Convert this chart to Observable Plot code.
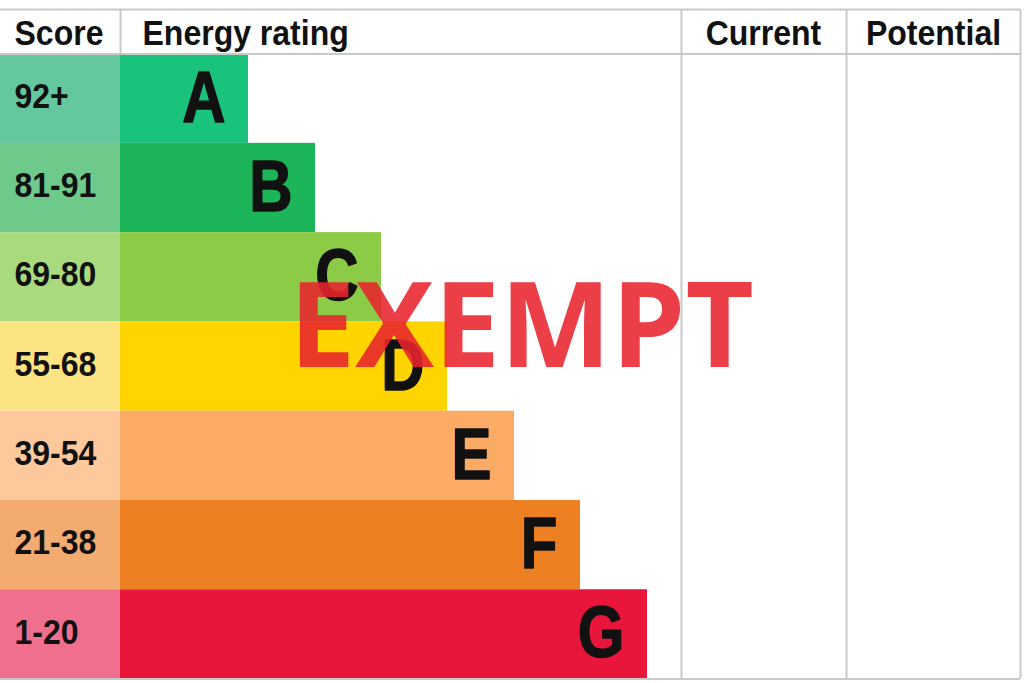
<!DOCTYPE html>
<html>
<head>
<meta charset="utf-8">
<script src="https://cdn.jsdelivr.net/npm/d3@7"></script>
<script src="https://cdn.jsdelivr.net/npm/@observablehq/plot@0.6"></script>
<style>
  html, body { margin: 0; padding: 0; background: #ffffff; }
  #chart svg { display: block; }
</style>
</head>
<body>
<div id="chart"></div>
<script>
// ---- data ----
const ratings = ["A", "B", "C", "D", "E", "F", "G"];
const scoreRanges = ["92+", "81-91", "69-80", "55-68", "39-54", "21-38", "1-20"];
const barColors = ["#19c37b", "#1db55a", "#8ccb45", "#ffd400", "#fcab66", "#ee8024", "#e9163c"];
const scoreColors = ["#64c79d", "#6dca8b", "#a9db7e", "#fde482", "#fdc99c", "#f4ab70", "#ef6f8d"];
// bar lengths of the rating arrows (layout units, same as the x scale)
const barLengths = [128, 195, 261, 327, 394, 460, 527];
const scoreColumnWidth = 120;
const leftHeaders = ["Score", "Energy rating"];
const leftHeaderX = [14, 142];
const rightHeaders = ["Current", "Potential"];
const rightHeaderX = [763, 933];
const columnEdges = [681, 846, 1020];
const stampText = "EXEMPT";

// ---- tables built from the arrays ----
const rows = ratings.map((r, i) => ({
  rating: r,
  score: scoreRanges[i],
  i,
  x2: scoreColumnWidth + barLengths[i],
  bar: barColors[i],
  scoreFill: scoreColors[i]
}));
const headL = leftHeaders.map((h, k) => ({label: h, x: leftHeaderX[k]}));
const headR = rightHeaders.map((h, k) => ({label: h, x: rightHeaderX[k]}));

const fontFam = "'Liberation Sans', Arial, Helvetica, sans-serif";
const grid = "#c9c9c9";
const hdrOpts = {y: -0.25, text: "label", fontSize: 32, fontWeight: "bold", fontFamily: fontFam, fill: "#111", dy: 2, ariaDescription: "hdr"};

const chart = Plot.plot({
  width: 1024,
  height: 683,
  margin: 0,
  style: {background: "#ffffff"},
  x: {domain: [0, 1024], range: [0, 1024], axis: null},
  y: {domain: [-0.6, 7.05], range: [0, 683], axis: null},
  marks: [
    // score cells
    Plot.rect(rows, {x1: 0, x2: scoreColumnWidth, y1: "i", y2: d => d.i + 1, fill: "scoreFill"}),
    // rating bars
    Plot.rect(rows, {x1: scoreColumnWidth, x2: "x2", y1: "i", y2: d => d.i + 1, fill: "bar"}),
    // grid lines
    Plot.ruleY([-0.5, 0, 7], {x1: 0, x2: 1020, stroke: grid, strokeWidth: 2}),
    Plot.ruleX(columnEdges, {y1: -0.5, y2: 7, stroke: grid, strokeWidth: 2}),
    Plot.ruleX([scoreColumnWidth], {y1: -0.5, y2: 0, stroke: grid, strokeWidth: 2}),
    // header labels
    Plot.text(headL, {...hdrOpts, x: "x", textAnchor: "start"}),
    Plot.text(headR, {...hdrOpts, x: "x", textAnchor: "middle"}),
    // score labels
    Plot.text(rows, {x: 14, y: d => d.i + 0.5, text: "score", textAnchor: "start", fontSize: 32, fontWeight: "bold",
      fontFamily: fontFam, fill: "#111", dy: -2, ariaDescription: "score"}),
    // rating letters
    Plot.text(rows, {x: d => d.x2 - 23, y: d => d.i + 0.5, text: "rating", textAnchor: "end", fontSize: 60, fontWeight: "bold",
      fontFamily: fontFam, fill: "#111", stroke: "#111", strokeWidth: 1.2, ariaDescription: "letter"}),
    // stamp
    Plot.text([stampText], {x: 521, y: 3.08, text: d => d, textAnchor: "middle", fontSize: 118, fontWeight: "bold",
      fontFamily: "'Open Sans', 'Noto Sans', sans-serif", fill: "#e8232e", fillOpacity: 0.88})
  ]
});

// vertical stretch of the glyphs, as in the reference artwork
const stretch = {hdr: 1.09, score: 1.09, letter: 1.2};
for (const [key, s] of Object.entries(stretch)) {
  chart.querySelectorAll(`g[aria-description="${key}"] text`).forEach(t => {
    const tr = t.getAttribute("transform") || "";
    t.setAttribute("transform", tr + ` scale(1,${s})`);
  });
}

document.getElementById("chart").appendChild(chart);
</script>
</body>
</html>
